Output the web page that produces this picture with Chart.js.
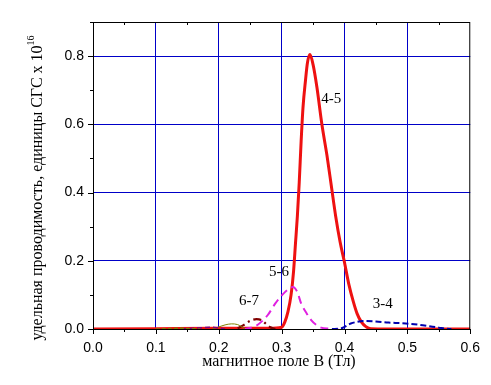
<!DOCTYPE html>
<html><head><meta charset="utf-8">
<script src="https://cdn.jsdelivr.net/npm/chart.js@4/dist/chart.umd.min.js"></script>
<style>html,body{margin:0;padding:0;background:#fff;}#wrap{width:491px;height:385px;position:relative;}</style>
</head><body><div id="wrap"><canvas id="c" width="491" height="385"></canvas></div>
<script>
// magnetic field B (T) and conductivity values (x 1e-16 CGS) per transition
const b45 = [0, 0.10, 0.20, 0.28, 0.300, 0.305, 0.310, 0.315, 0.319, 0.322, 0.325, 0.328, 0.331, 0.334, 0.338, 0.341, 0.345, 0.350, 0.356, 0.364, 0.372, 0.379, 0.386, 0.393, 0.400, 0.407, 0.414, 0.420, 0.427, 0.434, 0.442, 0.50, 0.60];
const s45 = [0, 0.001, 0.002, 0.002, 0.005, 0.02, 0.05, 0.10, 0.17, 0.25, 0.33, 0.43, 0.55, 0.65, 0.73, 0.78, 0.805, 0.775, 0.71, 0.60, 0.51, 0.42, 0.33, 0.255, 0.195, 0.13, 0.08, 0.045, 0.02, 0.007, 0.001, 0, 0];
const b56 = [0.24, 0.25, 0.26, 0.27, 0.278, 0.29, 0.301, 0.31, 0.318, 0.325, 0.331, 0.34, 0.347, 0.355, 0.363, 0.375, 0.39];
const s56 = [0, 0.003, 0.01, 0.025, 0.041, 0.075, 0.10, 0.116, 0.123, 0.108, 0.075, 0.045, 0.026, 0.012, 0.004, 0.001, 0];
const b34 = [0.38, 0.395, 0.41, 0.42, 0.432, 0.45, 0.47, 0.49, 0.505, 0.52, 0.535, 0.55, 0.56, 0.57];
const s34 = [0, 0.002, 0.016, 0.021, 0.0235, 0.022, 0.019, 0.017, 0.015, 0.012, 0.008, 0.004, 0.001, 0];
const b67 = [0.23, 0.24, 0.25, 0.26, 0.268, 0.275, 0.282, 0.29];
const s67 = [0.002, 0.012, 0.024, 0.029, 0.026, 0.015, 0.005, 0];
const b78 = [0.19, 0.20, 0.21, 0.22, 0.23, 0.237, 0.242];
const s78 = [0, 0.006, 0.012, 0.015, 0.013, 0.006, 0];
const b89 = [0.14, 0.16, 0.175, 0.19, 0.20, 0.21];
const s89 = [0, 0.002, 0.004, 0.005, 0.003, 0];
const b910 = [0.10, 0.12, 0.14, 0.155, 0.17];
const s910 = [0, 0.001, 0.002, 0.001, 0];
const xTicks = [0.0, 0.1, 0.2, 0.3, 0.4, 0.5, 0.6];
const yTicks = [0.0, 0.2, 0.4, 0.6, 0.8];
const curveLabels = [
  {text: '4-5', x: 0.379, y: 0.675},
  {text: '5-6', x: 0.296, y: 0.167},
  {text: '6-7', x: 0.248, y: 0.083},
  {text: '3-4', x: 0.461, y: 0.072}
];

const pts = (bx, sy) => bx.map((b, i) => ({x: b, y: sy[i]}));

const frame = {
  id: 'frame',
  afterDraw(chart) {
    const {ctx, chartArea: a, scales: {x, y}} = chart;
    ctx.save();
    ctx.strokeStyle = '#000';
    ctx.lineWidth = 1;
    ctx.strokeRect(a.left + 0.5, a.top + 0.5, a.right - a.left - 1, a.bottom - a.top);
    ctx.beginPath();
    for (let v = 0; v <= 0.6001; v += 0.05) {
      const px = Math.round(x.getPixelForValue(v)) + 0.5;
      const major = Math.abs(v * 10 - Math.round(v * 10)) < 1e-6;
      ctx.moveTo(px, a.bottom); ctx.lineTo(px, a.bottom + (major ? 5 : 3));
      ctx.moveTo(px, a.top); ctx.lineTo(px, a.top + (major ? 0 : 3));
    }
    for (let v = 0; v <= 0.9001; v += 0.1) {
      const py = Math.round(y.getPixelForValue(v)) + 0.5;
      const major = Math.abs(v * 5 - Math.round(v * 5)) < 1e-6;
      ctx.moveTo(a.left, py); ctx.lineTo(a.left - (major ? 5 : 3), py);
    }
    ctx.stroke();
    // curve labels
    ctx.fillStyle = '#000';
    ctx.font = '15px "Liberation Serif"';
    ctx.textAlign = 'center';
    ctx.textBaseline = 'middle';
    curveLabels.forEach(l => ctx.fillText(l.text, x.getPixelForValue(l.x), y.getPixelForValue(l.y)));
    // x title
    ctx.font = '16px "Liberation Serif"';
    ctx.fillText('магнитное поле B (Тл)', 279, 362);
    // y title with superscript
    ctx.translate(38, 188);
    ctx.rotate(-Math.PI / 2);
    const main = 'удельная проводимость, единицы СГС x 10';
    ctx.font = '16px "Liberation Serif"';
    const w1 = ctx.measureText(main).width;
    ctx.font = '10px "Liberation Serif"';
    const w2 = ctx.measureText('16').width;
    const start = -(w1 + w2) / 2;
    ctx.textAlign = 'left';
    ctx.font = '16px "Liberation Serif"';
    ctx.fillText(main, start, 0);
    ctx.font = '10px "Liberation Serif"';
    ctx.fillText('16', start + w1, -7);
    ctx.restore();
  }
};

const ds = (label, data, color, width, dash) => ({
  label, data, borderColor: color, borderWidth: width, borderDash: dash,
  pointRadius: 0, fill: false, cubicInterpolationMode: 'monotone'
});

new Chart(document.getElementById('c'), {
  type: 'line',
  data: {
    datasets: [
      ds('9-10', pts(b910, s910), '#808000', 1.5, [4, 2]),
      ds('8-9', pts(b89, s89), '#800080', 1.5, [5, 3]),
      ds('7-8', pts(b78, s78), '#808000', 1, []),
      ds('6-7', pts(b67, s67), '#800000', 2.2, [8, 4, 2, 4]),
      ds('3-4', pts(b34, s34), '#0000b0', 2, [6, 3]),
      ds('5-6', pts(b56, s56), '#e020e0', 2, [8, 5]),
      ds('4-5', pts(b45, s45), '#ee1111', 3, [])
    ]
  },
  options: {
    responsive: false,
    animation: false,
    events: [],
    layout: {padding: {left: 0, right: 19, top: 22, bottom: 0}},
    plugins: {legend: {display: false}, tooltip: {enabled: false}},
    scales: {
      x: {
        type: 'linear', min: 0, max: 0.6,
        afterBuildTicks: s => { s.ticks = xTicks.map(v => ({value: v})); },
        afterFit: s => { s.height = 56; },
        border: {display: false},
        grid: {drawTicks: false, color: c => (c.tick && c.tick.value > 0.001 && c.tick.value < 0.599) ? '#0000c8' : 'rgba(0,0,0,0)', lineWidth: 1},
        ticks: {padding: 11, color: '#000', font: {family: '"Liberation Sans"', size: 14}, callback: v => Number(v).toFixed(1), maxRotation: 0}
      },
      y: {
        type: 'linear', min: 0, max: 0.9,
        afterBuildTicks: s => { s.ticks = yTicks.map(v => ({value: v})); },
        afterFit: s => { s.width = 93; },
        border: {display: false},
        grid: {drawTicks: false, color: c => (c.tick && c.tick.value > 0.001) ? '#0000c8' : 'rgba(0,0,0,0)', lineWidth: 1},
        ticks: {padding: 9, color: '#000', font: {family: '"Liberation Sans"', size: 14}, callback: v => Number(v).toFixed(1)}
      }
    }
  },
  plugins: [frame]
});
</script></body></html>
